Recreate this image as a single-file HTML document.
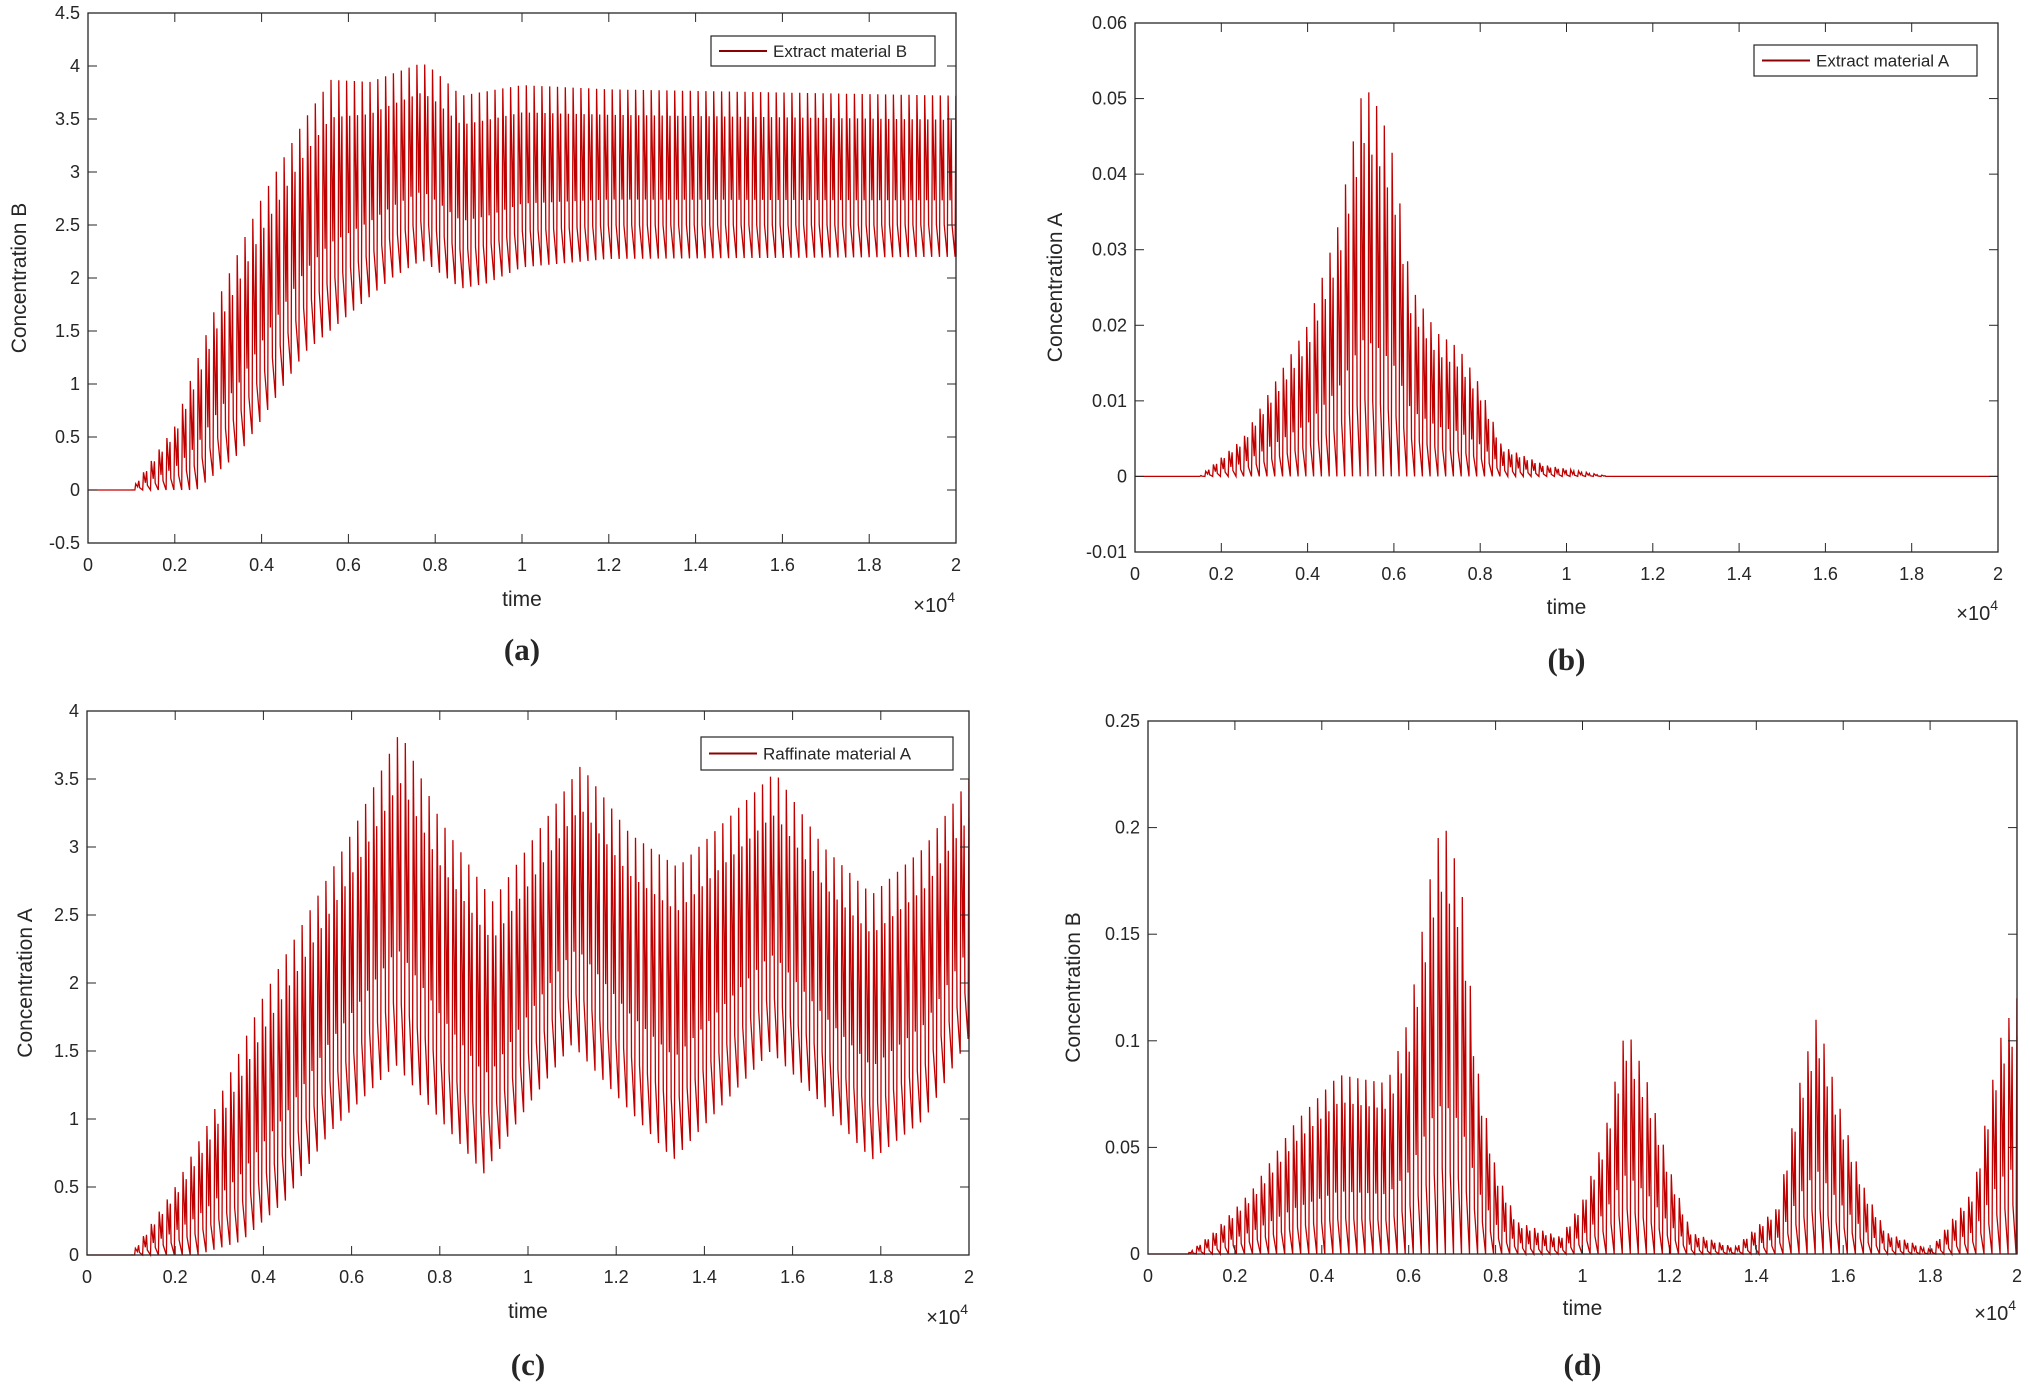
<!DOCTYPE html>
<html><head><meta charset="utf-8"><style>
html,body{margin:0;padding:0;background:#fff;}
svg{display:block;}
text{font-family:"Liberation Sans",sans-serif;fill:#262626;}
</style></head><body>
<svg id="s" width="2030" height="1387" xmlns="http://www.w3.org/2000/svg"></svg>
<script>
const S=document.getElementById('s');
let h='';
function lin(pts,t){if(t<=pts[0][0])return pts[0][1];for(let i=1;i<pts.length;i++){if(t<=pts[i][0]){const a=pts[i-1],b=pts[i];return a[1]+(b[1]-a[1])*(t-a[0])/(b[0]-a[0]);}}return pts[pts.length-1][1];}
function plot(o){
 const {x0,x1,y0,y1,ymin,ymax,yticks,ylab,ylabx,xlabY,xmulX,xmulY,leg,up,lo,P,cap,capY}=o;
 const X=t=>x0+(x1-x0)*t/20000, Y=v=>y1-(y1-y0)*(v-ymin)/(ymax-ymin);
 let d='';const f=[[0,0],[0.1,1],[0.35,0.35],[0.5,0.85],[0.6,0.2],[1,0]];
 let first=true;
 for(let t0=0;t0<20000;t0+=P){
  for(const [ft,fv] of f){const t=Math.min(20000,t0+ft*P);const u=lin(up,t),l=lin(lo,t);const v=l+fv*(u-l);
   d+=(first?'M':'L')+X(t).toFixed(1)+' '+Y(v).toFixed(1);first=false;}
 }
 h+=`<path d="${d}" fill="none" stroke="#c00000" stroke-width="1.3"/>`;
 h+=`<rect x="${x0}" y="${y0}" width="${x1-x0}" height="${y1-y0}" fill="none" stroke="#262626" stroke-width="1.3"/>`;
 const tl=9;
 for(let i=0;i<=10;i++){const xx=x0+(x1-x0)*i/10;const lab=i==0?'0':i==5?'1':i==10?'2':(i/5).toFixed(1);
  h+=`<line x1="${xx}" y1="${y1}" x2="${xx}" y2="${y1-tl}" stroke="#262626"/><line x1="${xx}" y1="${y0}" x2="${xx}" y2="${y0+tl}" stroke="#262626"/>`;
  h+=`<text x="${xx}" y="${y1+28}" font-size="18" text-anchor="middle">${lab}</text>`;}
 for(const [v,lab] of yticks){const yy=Y(v);
  h+=`<line x1="${x0}" y1="${yy}" x2="${x0+tl}" y2="${yy}" stroke="#262626"/><line x1="${x1}" y1="${yy}" x2="${x1-tl}" y2="${yy}" stroke="#262626"/>`;
  h+=`<text x="${x0-8}" y="${yy+6}" font-size="18" text-anchor="end">${lab}</text>`;}
 h+=`<text x="${(x0+x1)/2}" y="${xlabY}" font-size="21" text-anchor="middle">time</text>`;
 h+=`<text x="${xmulX}" y="${xmulY}" font-size="20" text-anchor="end">×10<tspan dy="-10" font-size="14">4</tspan></text>`;
 const yc=(y0+y1)/2;
 h+=`<text x="${ylabx}" y="${yc}" font-size="21" text-anchor="middle" transform="rotate(-90 ${ylabx} ${yc})">${ylab}</text>`;
 if(leg){const [lx,ly,lw,lh,txt]=leg;
  h+=`<rect x="${lx}" y="${ly}" width="${lw}" height="${lh}" fill="#fff" stroke="#262626" stroke-width="1.2"/>`;
  h+=`<line x1="${lx+8}" y1="${ly+lh/2}" x2="${lx+56}" y2="${ly+lh/2}" stroke="#8b0000" stroke-width="2"/>`;
  h+=`<text x="${lx+62}" y="${ly+lh/2+6}" font-size="17">${txt}</text>`;}
 h+=`<text x="${(x0+x1)/2}" y="${capY}" font-size="31" font-weight="bold" text-anchor="middle" style="font-family:'Liberation Serif',serif">${cap}</text>`;
}
plot({x0:88,x1:956,y0:13,y1:543,ymin:-0.5,ymax:4.5,
 yticks:[[-0.5,'-0.5'],[0,'0'],[0.5,'0.5'],[1,'1'],[1.5,'1.5'],[2,'2'],[2.5,'2.5'],[3,'3'],[3.5,'3.5'],[4,'4'],[4.5,'4.5']],
 ylab:'Concentration B',ylabx:26,xlabY:606,xmulX:955,xmulY:612,leg:[711,36,224,30,'Extract material B'],P:180,
 up:[[0,0],[1000,0],[2000,0.6],[3000,1.8],[4000,2.75],[5000,3.5],[5600,3.87],[6500,3.85],[7700,4.03],[8000,3.95],[8600,3.72],[10000,3.82],[12000,3.78],[20000,3.72]],
 lo:[[0,0],[2500,0],[3500,0.35],[5000,1.3],[6000,1.65],[7000,2.0],[7700,2.17],[8600,1.9],[9200,1.95],[10000,2.1],[12000,2.18],[20000,2.2]],
 cap:'(a)',capY:660});
plot({x0:1135,x1:1998,y0:23,y1:552,ymin:-0.01,ymax:0.06,
 yticks:[[-0.01,'-0.01'],[0,'0'],[0.01,'0.01'],[0.02,'0.02'],[0.03,'0.03'],[0.04,'0.04'],[0.05,'0.05'],[0.06,'0.06']],
 ylab:'Concentration A',ylabx:1062,xlabY:614,xmulX:1998,xmulY:620,leg:[1754,45,223,31,'Extract material A'],P:180,
 up:[[0,0],[1500,0],[2500,0.005],[3000,0.01],[4000,0.02],[4700,0.033],[5300,0.052],[5700,0.048],[6000,0.042],[6400,0.025],[7000,0.019],[7500,0.017],[8000,0.012],[8500,0.004],[9500,0.0015],[11000,0],[20000,0]],
 lo:[[0,0],[20000,0]],cap:'(b)',capY:670});
plot({x0:87,x1:969,y0:711,y1:1255,ymin:0,ymax:4,
 yticks:[[0,'0'],[0.5,'0.5'],[1,'1'],[1.5,'1.5'],[2,'2'],[2.5,'2.5'],[3,'3'],[3.5,'3.5'],[4,'4']],
 ylab:'Concentration A',ylabx:32,xlabY:1318,xmulX:968,xmulY:1324,leg:[701,737,252,33,'Raffinate material A'],P:180,
 up:[[0,0],[1000,0],[2000,0.5],[2800,1.0],[4000,1.9],[5000,2.5],[6000,3.1],[7100,3.85],[8000,3.2],[9200,2.6],[10200,3.1],[11200,3.6],[12300,3.1],[13400,2.85],[14500,3.2],[15600,3.55],[16700,3.0],[17800,2.65],[19000,3.0],[20000,3.5]],
 lo:[[0,0],[2500,0],[3500,0.1],[4500,0.4],[5500,0.9],[7000,1.4],[8000,1.0],[9000,0.6],[10000,1.1],[11000,1.55],[12200,1.1],[13300,0.7],[14400,1.1],[15500,1.5],[16700,1.1],[17800,0.7],[19000,1.0],[20000,1.6]],
 cap:'(c)',capY:1375});
plot({x0:1148,x1:2017,y0:721,y1:1254,ymin:0,ymax:0.25,
 yticks:[[0,'0'],[0.05,'0.05'],[0.1,'0.1'],[0.15,'0.15'],[0.2,'0.2'],[0.25,'0.25']],
 ylab:'Concentration B',ylabx:1080,xlabY:1315,xmulX:2016,xmulY:1320,leg:null,P:185,
 up:[[0,0],[900,0],[1500,0.01],[2400,0.03],[3400,0.062],[4400,0.084],[5500,0.08],[6000,0.11],[6600,0.19],[6800,0.203],[7200,0.175],[7600,0.085],[8000,0.04],[8500,0.015],[9500,0.008],[10000,0.025],[10500,0.055],[11000,0.107],[11500,0.08],[12000,0.04],[12500,0.01],[13500,0.003],[14500,0.022],[15000,0.08],[15400,0.112],[15900,0.07],[16500,0.03],[17000,0.01],[18000,0.002],[19000,0.03],[19600,0.1],[20000,0.12]],
 lo:[[0,0],[20000,0]],cap:'(d)',capY:1375});
S.innerHTML=h;
</script>
</body></html>
